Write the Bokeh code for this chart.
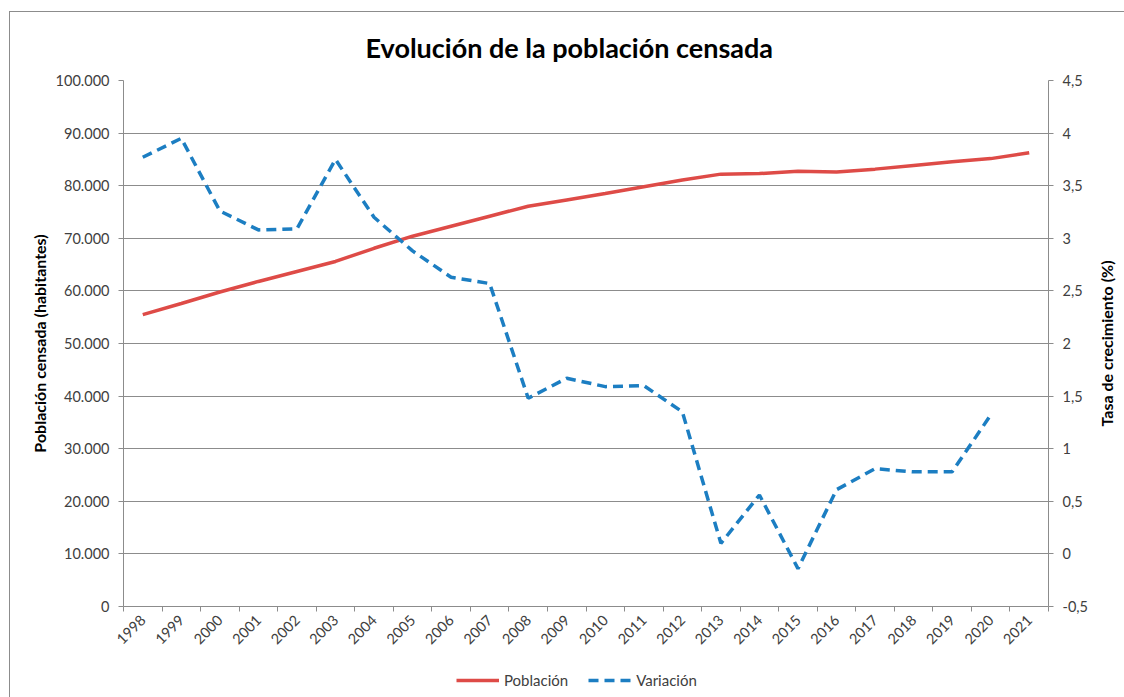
import math
from bokeh.plotting import figure
from bokeh.layouts import column, row
from bokeh.models import (ColumnDataSource, Range1d, LinearAxis, FixedTicker,
                          Legend, LegendItem, Title)
from bokeh.embed import file_html
from bokeh.resources import INLINE

years = ["1998", "1999", "2000", "2001", "2002", "2003", "2004", "2005", "2006",
         "2007", "2008", "2009", "2010", "2011", "2012", "2013", "2014", "2015",
         "2016", "2017", "2018", "2019", "2020", "2021"]
poblacion = [55500, 57600, 59800, 61800, 63700, 65600, 68100, 70400, 72300,
             74200, 76100, 77300, 78500, 79800, 81100, 82200, 82300, 82750,
             82600, 83150, 83850, 84550, 85150, 86250]
variacion = [3.77, 3.95, 3.26, 3.08, 3.09, 3.75, 3.20, 2.88, 2.63, 2.57, 1.48,
             1.67, 1.59, 1.60, 1.35, 0.10, 0.56, -0.14, 0.61, 0.81, 0.78, 0.78,
             1.32, None]

left_ticks = [0, 10000, 20000, 30000, 40000, 50000, 60000, 70000, 80000, 90000, 100000]
left_labels = ["0", "10.000", "20.000", "30.000", "40.000", "50.000", "60.000",
               "70.000", "80.000", "90.000", "100.000"]
right_ticks = [-0.5, 0, 0.5, 1, 1.5, 2, 2.5, 3, 3.5, 4, 4.5]
right_labels = ["-0,5", "0", "0,5", "1", "1,5", "2", "2,5", "3", "3,5", "4", "4,5"]

FONT = "Lato"
TXT = "#404040"
GRID = "#8c8c8c"
RED = "#DE4B47"
BLUE = "#1C7EC2"
TICK_FS = "14.5px"
AXT_FS = "16px"

xpos = [i + 0.5 for i in range(len(years))]
src_p = ColumnDataSource(dict(x=xpos, y=poblacion))
vx = [x for x, v in zip(xpos, variacion) if v is not None]
vy = [v for v in variacion if v is not None]
src_v = ColumnDataSource(dict(x=vx, y=vy))

W1 = 1084
H1 = 643
p = figure(width=W1, height=H1, output_backend="svg", toolbar_location=None,
           x_range=Range1d(0, len(years)), y_range=Range1d(0, 100000),
           min_border_left=113, min_border_right=46, min_border_top=68,
           min_border_bottom=49, x_axis_location=None, y_axis_location=None)
p.outline_line_color = None
p.background_fill_color = "white"
p.border_fill_color = "white"
p.extra_y_ranges = {"var": Range1d(right_ticks[0], right_ticks[-1])}

p.title.text = "Evolución de la población censada"
p.title.text_font = FONT
p.title.text_font_size = "27px"
p.title.text_font_style = "bold"
p.title.text_color = "#000000"
p.title.align = "left"
p.title.offset = 242
p.title.standoff = 33

# x axis
xax = LinearAxis(ticker=FixedTicker(ticks=xpos, minor_ticks=list(range(len(years) + 1))),
                 major_label_overrides={x: y for x, y in zip(xpos, years)})
xax.major_tick_line_color = None
xax.minor_tick_line_color = GRID
xax.minor_tick_out = 5
xax.minor_tick_in = 0
xax.axis_line_color = GRID
xax.major_label_orientation = math.pi / 4
xax.major_label_text_font = FONT
xax.major_label_text_font_size = TICK_FS
xax.major_label_text_color = TXT
xax.major_label_standoff = 5
p.add_layout(xax, "below")

# left axis
lax = LinearAxis(ticker=FixedTicker(ticks=left_ticks, minor_ticks=[]),
                 major_label_overrides={t: s for t, s in zip(left_ticks, left_labels)},
                 axis_label="Población censada (habitantes)")
lax.axis_line_color = GRID
lax.major_tick_line_color = GRID
lax.major_tick_out = 5
lax.major_tick_in = 0
lax.minor_tick_line_color = None
lax.major_label_text_font = FONT
lax.major_label_text_font_size = TICK_FS
lax.major_label_text_color = TXT
lax.major_label_standoff = 9
lax.axis_label_text_font = FONT
lax.axis_label_text_font_size = AXT_FS
lax.axis_label_text_font_style = "bold"
lax.axis_label_text_color = "#000000"
lax.axis_label_standoff = 4
p.add_layout(lax, "left")

# right axis (ticks and labels)
rax = LinearAxis(y_range_name="var",
                 ticker=FixedTicker(ticks=right_ticks, minor_ticks=[]),
                 major_label_overrides={t: s for t, s in zip(right_ticks, right_labels)})
rax.axis_line_color = GRID
rax.major_tick_line_color = GRID
rax.major_tick_out = 5
rax.major_tick_in = 0
rax.minor_tick_line_color = None
rax.major_label_text_font = FONT
rax.major_label_text_font_size = TICK_FS
rax.major_label_text_color = TXT
rax.major_label_standoff = 9
p.add_layout(rax, "right")

p.xgrid.visible = False
p.ygrid.ticker = FixedTicker(ticks=left_ticks)
p.ygrid.grid_line_color = GRID
p.ygrid.grid_line_width = 1

r1 = p.line("x", "y", source=src_p, line_color=RED, line_width=3.5)
r2 = p.line("x", "y", source=src_v, y_range_name="var", line_color=BLUE,
            line_width=3.5, line_dash="10 6")

# right-axis title in a narrow strip (reads bottom-to-top, centred on frame)
tf = figure(width=30, height=H1, output_backend="svg", toolbar_location=None,
            min_border_left=0, min_border_right=0, min_border_top=68,
            min_border_bottom=49, x_axis_location=None, y_axis_location=None)
tf.outline_line_color = None
tf.xgrid.visible = False
tf.ygrid.visible = False
rt = Title(text="Tasa de crecimiento (%)", align="center", text_font=FONT,
           text_font_size=AXT_FS, text_font_style="bold", text_color="#000000",
           standoff=0, offset=0)
tf.add_layout(rt, "left")

# legend strip below the chart (sample lines lie outside the visible range)
lg = figure(width=W1, height=42, output_backend="svg", toolbar_location=None,
            x_range=Range1d(0, 1), y_range=Range1d(0, 1),
            min_border=0, x_axis_location=None, y_axis_location=None)
lg.outline_line_color = None
lg.xgrid.visible = False
lg.ygrid.visible = False
lr1 = lg.line([5, 6], [5, 6], line_color=RED, line_width=3.5)
lr2 = lg.line([5, 6], [5, 6], line_color=BLUE, line_width=3.5, line_dash="10 6")
legend = Legend(items=[LegendItem(label="Población", renderers=[lr1]),
                       LegendItem(label="Variación", renderers=[lr2])],
                orientation="horizontal", location=(333, 8))
legend.border_line_color = None
legend.background_fill_alpha = 0
legend.label_text_font = FONT
legend.label_text_font_size = "15px"
legend.label_text_color = TXT
legend.glyph_width = 43
legend.glyph_height = 18
legend.label_standoff = 5
legend.spacing = 20
legend.margin = 0
legend.padding = 0
lg.add_layout(legend, "center")

layout = row(column(p, lg, spacing=0), tf, spacing=0)
layout.margin = (11, 0, 0, 9)
layout.styles = {"border-left": "1px solid #8c8c8c", "border-top": "1px solid #8c8c8c"}

open("out.html", "w").write(file_html(layout, INLINE))
